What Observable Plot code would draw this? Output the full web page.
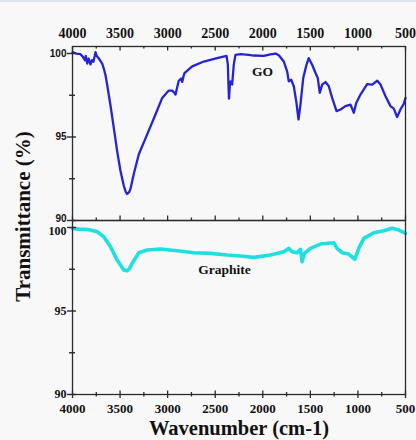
<!DOCTYPE html>
<html>
<head>
<meta charset="utf-8">
<script src="https://cdn.jsdelivr.net/npm/d3@7"></script>
<script src="https://cdn.jsdelivr.net/npm/@observablehq/plot@0.6"></script>
<style>
  html, body { margin: 0; padding: 0; background: #f8f8f8; }
  #chart { position: relative; width: 416px; height: 440px; }
  #chart::before { content: ""; position: absolute; left: 0; top: 0; right: 0; height: 2px; background: #dde3ec; }
</style>
</head>
<body>
<div id="chart"></div>
<script>
// FTIR spectra: graphene oxide (top panel) and graphite (bottom panel)
const panels = ["GO", "Graphite"];

const goWavenumber = [4000, 3960, 3916, 3890, 3870, 3860, 3845, 3830, 3811, 3795, 3780, 3765, 3758, 3745, 3723, 3705, 3688, 3671, 3653, 3635, 3601, 3566, 3531, 3496, 3461, 3440, 3425, 3405, 3390, 3356, 3303, 3215, 3128, 3057, 2988, 2952, 2930, 2917, 2905, 2883, 2858, 2847, 2835, 2823, 2742, 2620, 2480, 2381, 2367, 2360, 2355, 2345, 2339, 2322, 2305, 2287, 2234, 2150, 2094, 1989, 1920, 1866, 1832, 1779, 1744, 1727, 1702, 1674, 1646, 1625, 1604, 1575, 1541, 1517, 1481, 1446, 1422, 1401, 1376, 1341, 1306, 1271, 1225, 1183, 1131, 1078, 1043, 1018, 973, 903, 850, 797, 763, 710, 658, 623, 588, 553, 518, 500];
const goTransmittance = [100.08, 100.0, 99.96, 99.8, 99.6, 99.85, 99.4, 99.7, 99.35, 99.6, 99.5, 99.9, 100.08, 99.85, 99.7, 99.55, 99.4, 99.1, 98.7, 98.1, 96.9, 95.55, 94.17, 92.98, 92.08, 91.7, 91.59, 91.7, 91.9, 92.78, 93.97, 95.16, 96.35, 97.34, 97.78, 97.78, 97.65, 97.54, 97.85, 98.37, 98.5, 98.3, 98.6, 98.83, 99.23, 99.52, 99.72, 99.86, 99.33, 98.0, 97.3, 98.2, 98.33, 98.14, 99.33, 99.92, 99.96, 99.92, 99.88, 99.86, 99.95, 100.0, 99.9, 99.52, 98.93, 98.33, 98.43, 98.04, 97.04, 96.05, 96.94, 98.53, 99.32, 99.72, 99.33, 98.83, 98.53, 97.64, 98.14, 98.29, 98.04, 97.34, 96.55, 96.65, 96.85, 96.94, 96.45, 97.04, 97.54, 98.17, 98.14, 98.37, 98.14, 97.44, 96.85, 96.7, 96.19, 96.65, 96.98, 97.34];

const graphiteWavenumber = [4000, 3916, 3860, 3811, 3741, 3671, 3601, 3531, 3461, 3425, 3400, 3373, 3303, 3215, 3075, 2900, 2725, 2550, 2374, 2234, 2094, 1919, 1779, 1727, 1691, 1639, 1604, 1587, 1562, 1499, 1394, 1254, 1219, 1166, 1096, 1033, 991, 938, 833, 728, 640, 570, 500];
const graphiteTransmittance = [99.95, 99.89, 99.9, 99.85, 99.75, 99.45, 98.85, 98.05, 97.45, 97.41, 97.55, 97.85, 98.49, 98.65, 98.71, 98.61, 98.49, 98.45, 98.35, 98.29, 98.21, 98.35, 98.55, 98.75, 98.55, 98.49, 98.69, 97.95, 98.45, 98.75, 99.01, 99.09, 98.75, 98.49, 98.41, 98.09, 98.75, 99.35, 99.69, 99.81, 99.95, 99.85, 99.65];

const xMajorTicks = [4000, 3500, 3000, 2500, 2000, 1500, 1000, 500];
const xMinorTicks = [3750, 3250, 2750, 2250, 1750, 1250, 750];
const yMajorTicks = [90, 95, 100];
const yMinorTicks = [92.5, 97.5];

// Series name labels, placed in data coordinates inside each panel
const seriesLabels = [
  {panel: "GO", text: "GO", wn: 2003, t: 98.9},
  {panel: "Graphite", text: "Graphite", wn: 2403, t: 97.45}
];

const goRows = goWavenumber.map((wn, i) => ({wn, t: goTransmittance[i], panel: "GO"}));
const graphiteRows = graphiteWavenumber.map((wn, i) => ({wn, t: graphiteTransmittance[i], panel: "Graphite"}));

const W = 416, H = 440;
const mTop = 45, mBottom = 46, mLeft = 72, mRight = 11;
const panelH = (H - mTop - mBottom) / 2;
const plotW = W - mLeft - mRight;
const ink = "#2a2a2a";
const serif = "'Liberation Serif', 'Times New Roman', serif";
const sans = "'Liberation Sans', Arial, sans-serif";

const rows = (values, panel) => values.map(v => ({v, panel}));
const both = values => panels.flatMap(p => rows(values, p));

// y labels where the two panels meet sit just above / below the divider
const goYLabels = rows(yMajorTicks, "GO");
const graphiteYLabels = rows(yMajorTicks, "Graphite");
const yLabelStyle = {y: "v", fy: "panel", text: d => String(d.v), frameAnchor: "left", dx: -6, textAnchor: "end", fontWeight: "bold", fill: "#111"};

const chart = Plot.plot({
  width: W,
  height: H,
  marginTop: mTop,
  marginBottom: mBottom,
  marginLeft: mLeft,
  marginRight: mRight,
  style: {background: "transparent", fontFamily: serif, overflow: "visible"},
  x: {domain: [4000, 500], axis: null},
  y: {domain: [90, 100.42], axis: null},
  fy: {domain: panels, padding: 0, axis: null},
  marks: [
    // spectra
    Plot.line(goRows, {x: "wn", y: "t", fy: "panel", stroke: "#2424d6", strokeWidth: 2.3}),
    Plot.line(graphiteRows, {x: "wn", y: "t", fy: "panel", stroke: "#1fe0e0", strokeWidth: 3.6}),

    // panel frames
    Plot.frame({stroke: ink, strokeWidth: 1.3}),

    // GO panel: ticks hanging from the top edge
    Plot.tickX(rows(xMajorTicks, "GO"), {x: "v", fy: "panel", insetBottom: panelH - 5, stroke: ink, strokeWidth: 1.3}),
    Plot.tickX(rows(xMinorTicks, "GO"), {x: "v", fy: "panel", insetBottom: panelH - 3, stroke: ink, strokeWidth: 1.3}),
    // GO panel: ticks rising from the shared divider
    Plot.tickX(rows(xMajorTicks, "GO"), {x: "v", fy: "panel", insetTop: panelH - 5, stroke: ink, strokeWidth: 1.3}),
    Plot.tickX(rows(xMinorTicks, "GO"), {x: "v", fy: "panel", insetTop: panelH - 3, stroke: ink, strokeWidth: 1.3}),
    // Graphite panel: ticks crossing the bottom axis
    Plot.tickX(rows(xMajorTicks, "Graphite"), {x: "v", fy: "panel", insetTop: panelH - 4, insetBottom: -4, stroke: ink, strokeWidth: 1.3}),
    Plot.tickX(rows(xMinorTicks, "Graphite"), {x: "v", fy: "panel", insetTop: panelH - 2.5, insetBottom: -2.5, stroke: ink, strokeWidth: 1.3}),

    // y ticks crossing the left axis in both panels
    Plot.tickY(both(yMajorTicks), {y: "v", fy: "panel", insetLeft: -5, insetRight: plotW - 4, stroke: ink, strokeWidth: 1.4}),
    Plot.tickY(both(yMinorTicks), {y: "v", fy: "panel", insetLeft: -3, insetRight: plotW - 3, stroke: ink, strokeWidth: 1.4}),

    // x tick labels, top and bottom
    Plot.text(rows(xMajorTicks, "GO"), {x: "v", fy: "panel", text: d => String(d.v), frameAnchor: "top", dy: -13, lineAnchor: "middle", fontSize: 14, fontWeight: "bold", fontFamily: serif, fill: "#111"}),
    Plot.text(rows(xMajorTicks, "Graphite"), {x: "v", fy: "panel", text: d => String(d.v), frameAnchor: "bottom", dy: 14, lineAnchor: "middle", fontSize: 13, fontWeight: "bold", fontFamily: serif, fill: "#111"}),

    // y tick labels
    Plot.text(goYLabels.filter(d => d.v !== 90), {...yLabelStyle, lineAnchor: "middle", fontSize: 10, fontFamily: sans}),
    Plot.text(goYLabels.filter(d => d.v === 90), {...yLabelStyle, lineAnchor: "bottom", dy: 1, fontSize: 10, fontFamily: sans}),
    Plot.text(graphiteYLabels.filter(d => d.v !== 100), {...yLabelStyle, lineAnchor: "middle", fontSize: 12, fontFamily: serif}),
    Plot.text(graphiteYLabels.filter(d => d.v === 100), {...yLabelStyle, lineAnchor: "top", dy: -1, fontSize: 12, fontFamily: serif}),

    // series labels
    Plot.text(seriesLabels, {x: "wn", y: "t", fy: "panel", text: "text", fontSize: 13.5, fontWeight: "bold", fontFamily: serif, fill: "#111"}),

    // axis titles
    Plot.text([{panel: "GO"}], {fy: "panel", text: () => "Transmittance (%)", frameAnchor: "bottom-left", dx: -49, dy: -4, rotate: -90, textAnchor: "middle", lineAnchor: "middle", fontSize: 21, fontWeight: "bold", fontFamily: serif, fill: "#111"}),
    Plot.text([{panel: "Graphite"}], {fy: "panel", text: () => "Wavenumber (cm-1)", frameAnchor: "bottom", dy: 34, textAnchor: "middle", lineAnchor: "middle", fontSize: 20.5, fontWeight: "bold", fontFamily: serif, fill: "#111"})
  ]
});

document.getElementById("chart").append(chart);
</script>
</body>
</html>
